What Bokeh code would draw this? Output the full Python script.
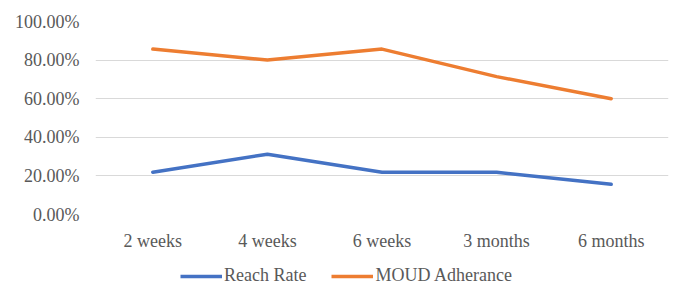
from bokeh.plotting import figure
from bokeh.layouts import column
from bokeh.models import (FactorRange, Range1d, FixedTicker, NumeralTickFormatter,
                          Legend, LegendItem, ColumnDataSource)
from bokeh.embed import file_html
from bokeh.resources import INLINE

categories = ["2 weeks", "4 weeks", "6 weeks", "3 months", "6 months"]
reach_rate = [0.2188, 0.3125, 0.2188, 0.2188, 0.1563]
moud_adherance = [0.8571, 0.8000, 0.8571, 0.7143, 0.6000]
y_ticks = [0, 0.2, 0.4, 0.6, 0.8, 1.0]
series_names = ["Reach Rate", "MOUD Adherance"]

FONT = "Times New Roman"
TXT = "#595959"
BLUE = "#4472C4"
ORANGE = "#ED7D31"

src = ColumnDataSource(dict(x=categories, reach=reach_rate, moud=moud_adherance))

p = figure(frame_width=573, frame_height=193,
           x_range=FactorRange(*categories, range_padding=0),
           y_range=Range1d(0, 1), output_backend="svg", toolbar_location=None,
           min_border_left=95, min_border_right=11, min_border_top=21, min_border_bottom=45)
p.outline_line_color = None
p.background_fill_color = "white"
p.border_fill_color = "white"

p.line("x", "reach", source=src, line_color=BLUE, line_width=3.5, line_cap="round")
p.line("x", "moud", source=src, line_color=ORANGE, line_width=3.5, line_cap="round")

p.yaxis.ticker = FixedTicker(ticks=y_ticks)
p.yaxis.formatter = NumeralTickFormatter(format="0.00%")
for ax in (p.xaxis[0], p.yaxis[0]):
    ax.axis_line_color = None
    ax.major_tick_line_color = None
    ax.minor_tick_line_color = None
    ax.major_tick_in = 0
    ax.major_tick_out = 0
    ax.major_label_text_font = FONT
    ax.major_label_text_font_size = "18px"
    ax.major_label_text_color = TXT
p.yaxis.major_label_standoff = 16
p.xaxis.major_label_standoff = 16
p.xgrid.grid_line_color = None
p.ygrid.grid_line_color = "#D9D9D9"
p.ygrid.grid_line_width = 1
p.ygrid.ticker = FixedTicker(ticks=y_ticks)

# legend strip below the chart (its lines lie outside its visible range)
lg = figure(width=679, height=28, x_range=FactorRange(*categories, range_padding=0),
            y_range=Range1d(2, 3), output_backend="svg", toolbar_location=None,
            x_axis_location=None, y_axis_location=None,
            min_border_left=0, min_border_right=0, min_border_top=0, min_border_bottom=0)
lg.outline_line_color = None
lg.xgrid.grid_line_color = None
lg.ygrid.grid_line_color = None
l1 = lg.line("x", "reach", source=src, line_color=BLUE, line_width=3.5)
l2 = lg.line("x", "moud", source=src, line_color=ORANGE, line_width=3.5)
legend = Legend(items=[LegendItem(label=series_names[0], renderers=[l1]),
                       LegendItem(label=series_names[1], renderers=[l2])],
                orientation="horizontal", location=(85, 1),
                label_text_font=FONT, label_text_font_size="18px", label_text_color=TXT,
                glyph_width=42, glyph_height=20, label_standoff=2, spacing=25,
                border_line_color=None, padding=0, margin=0, background_fill_alpha=0)
lg.add_layout(legend, "center")

layout = column(p, lg, spacing=0)
open("out.html", "w").write(file_html(layout, INLINE))
